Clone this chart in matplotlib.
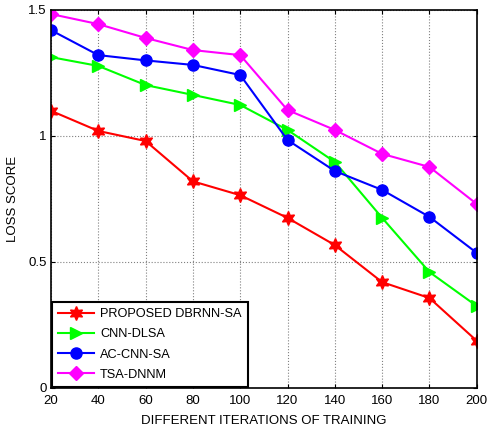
import numpy as np
import matplotlib.pyplot as plt

plt.rcParams['font.family'] = ['Liberation Sans', 'DejaVu Sans']

iters = [20, 40, 60, 80, 100, 120, 140, 160, 180, 200]
dbrnn = [1.10, 1.02, 0.98, 0.82, 0.765, 0.675, 0.567, 0.42, 0.357, 0.187]
cnn_dlsa = [1.313, 1.278, 1.202, 1.163, 1.123, 1.024, 0.897, 0.675, 0.46, 0.325]
ac_cnn = [1.42, 1.321, 1.30, 1.282, 1.242, 0.984, 0.861, 0.786, 0.679, 0.536]
tsa_dnnm = [1.484, 1.444, 1.389, 1.341, 1.321, 1.103, 1.024, 0.929, 0.877, 0.73]

fig = plt.figure(figsize=(4.87, 4.29), dpi=100)
ax = fig.add_axes([0.1047, 0.0956, 0.8743, 0.8811])

ax.plot(iters, dbrnn, color="red", marker=(6, 1, 0), markersize=10, lw=1.5, label="PROPOSED DBRNN-SA")
ax.plot(iters, cnn_dlsa, color="#00ff00", marker=">", markersize=9, lw=1.5, label="CNN-DLSA")
ax.plot(iters, ac_cnn, color="blue", marker="o", markersize=8, lw=1.5, label="AC-CNN-SA")
ax.plot(iters, tsa_dnnm, color="magenta", marker="D", markersize=7, lw=1.5, label="TSA-DNNM")

ax.set_xlim(20, 200)
ax.set_ylim(0, 1.5)
ax.set_xticks(iters)
ax.set_yticks([0, 0.5, 1, 1.5])
ax.set_yticklabels(["0", "0.5", "1", "1.5"])
ax.tick_params(direction="in", labelsize=9.5, length=3, top=True, right=True)
ax.tick_params(axis="x", pad=5)
ax.tick_params(axis="y", pad=3)
ax.grid(True, color="gray", linestyle=":", linewidth=0.8)
for s in ax.spines.values():
    s.set_linewidth(1.2)
ax.set_xlabel("DIFFERENT ITERATIONS OF TRAINING", fontsize=9.5, labelpad=6)
ax.set_ylabel("LOSS SCORE", fontsize=9.5, labelpad=7)

leg = ax.legend(loc="lower left", fontsize=9.2, fancybox=False, framealpha=1,
                edgecolor="black", borderaxespad=0.05, handlelength=2.8,
                handletextpad=0.5, labelspacing=0.65, borderpad=0.5)
leg.get_frame().set_linewidth(1.5)

plt.savefig("out.png")
